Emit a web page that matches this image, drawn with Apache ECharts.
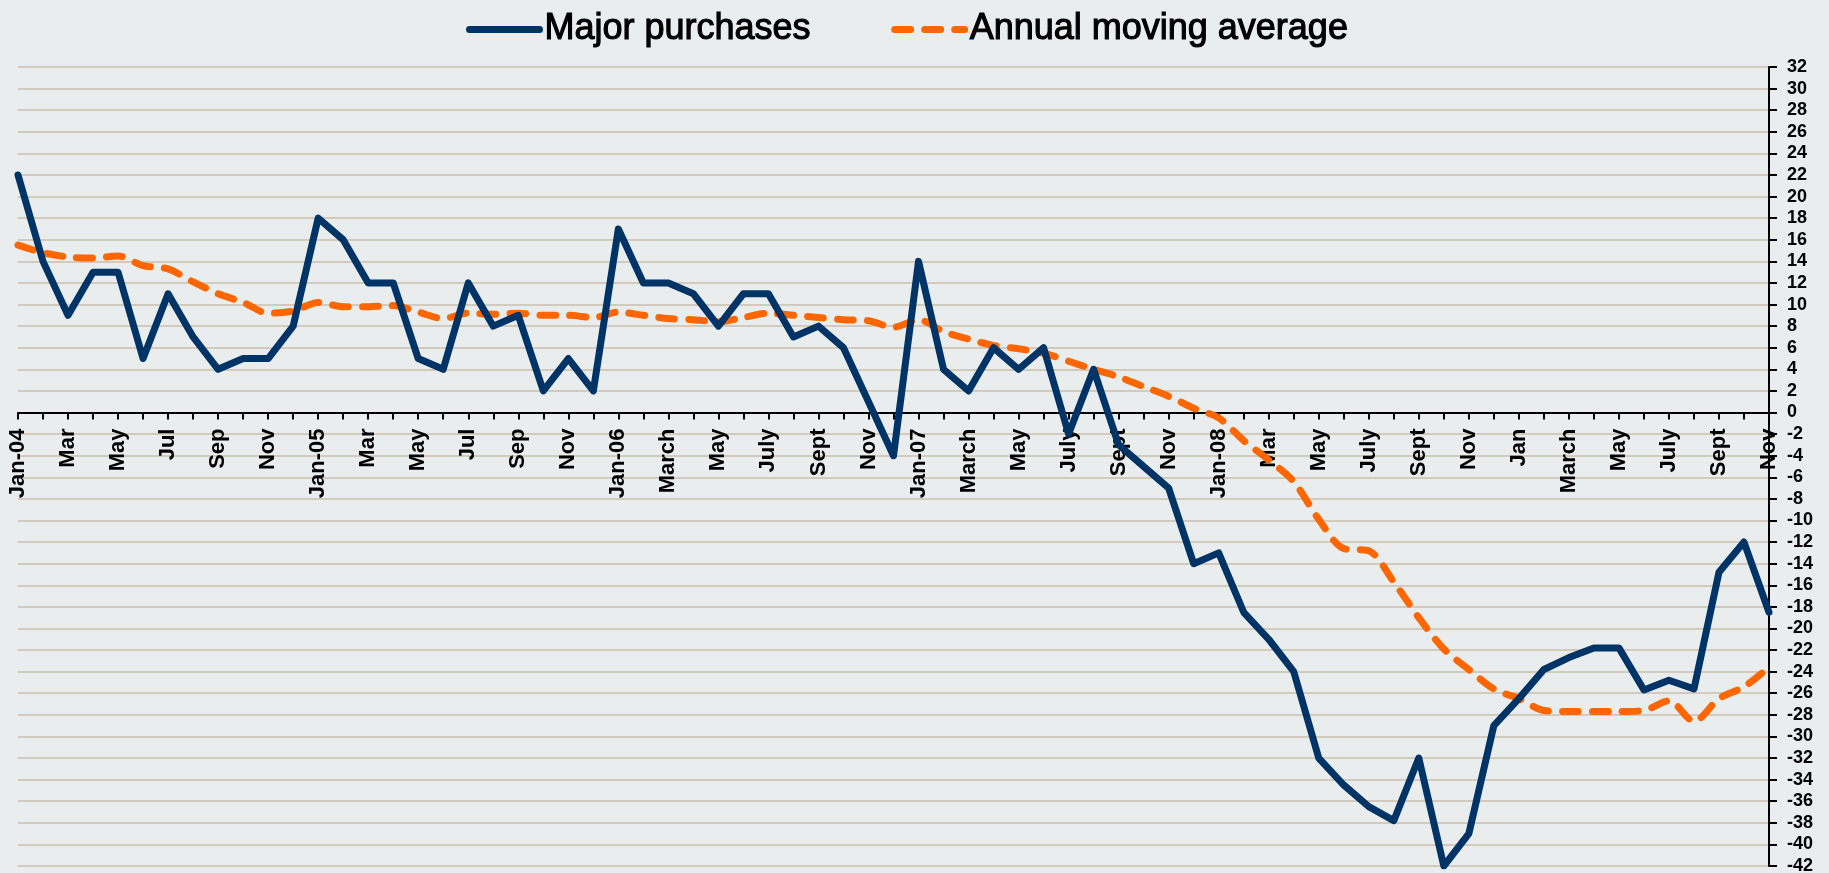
<!DOCTYPE html>
<html>
<head>
<meta charset="utf-8">
<script src="https://cdn.jsdelivr.net/npm/echarts@6/dist/echarts.min.js"></script>
<style>
	html, body { margin: 0; padding: 0; background: #e9eded; }
	#myChart { width: 1829px; height: 873px; }
</style>
</head>
<body>
<div id="myChart"></div>
<script>
	// months Jan-04 .. Nov-09
	const months = []
	for (let y = 2004; y <= 2009; y++) {
		for (let m = 1; m <= 12; m++) {
			if (y === 2009 && m > 11) break
			months.push(y + '-' + (m < 10 ? '0' + m : m))
		}
	}

	const tickLabels = [
		'Jan-04', '', 'Mar', '', 'May', '', 'Jul', '', 'Sep', '', 'Nov', '',
		'Jan-05', '', 'Mar', '', 'May', '', 'Jul', '', 'Sep', '', 'Nov', '',
		'Jan-06', '', 'March', '', 'May', '', 'July', '', 'Sept', '', 'Nov', '',
		'Jan-07', '', 'March', '', 'May', '', 'July', '', 'Sept', '', 'Nov', '',
		'Jan-08', '', 'Mar', '', 'May', '', 'July', '', 'Sept', '', 'Nov', '',
		'Jan', '', 'March', '', 'May', '', 'July', '', 'Sept', '', 'Nov'
	]

	const majorPurchases = [
		22, 14, 9, 13, 13, 5, 11, 7, 4, 5, 5, 8,
		18, 16, 12, 12, 5, 4, 12, 8, 9, 2, 5, 2,
		17, 12, 12, 11, 8, 11, 11, 7, 8, 6, 1, -4,
		14, 4, 2, 6, 4, 6, -2, 4, -3, -5, -7, -14,
		-13, -18.5, -21, -24, -32, -34.5, -36.5, -37.8, -32, -42, -39, -29,
		-26.5, -23.8, -22.7, -21.8, -21.8, -25.7, -24.8, -25.6, -14.8, -12, -18.5
	]

	const movingAverage = [
		15.5, 14.8, 14.4, 14.3, 14.5, 13.6, 13.3, 12.1, 11.0, 10.2, 9.2, 9.4,
		10.2, 9.8, 9.8, 9.9, 9.3, 8.7, 9.2, 9.1, 9.2, 9.0, 9.0, 8.8,
		9.3, 9.0, 8.7, 8.6, 8.4, 8.8, 9.2, 9.0, 8.8, 8.6, 8.5, 7.9,
		8.6, 7.5, 6.8, 6.2, 5.9, 5.5, 4.75, 4.0, 3.3, 2.4, 1.5, 0.4,
		-0.5, -2.6, -4.4, -6.4, -9.9, -12.6, -12.8, -15.7, -19, -21.9, -23.8, -25.6,
		-26.5, -27.6, -27.7, -27.7, -27.7, -27.6, -26.7, -28.6, -26.5, -25.4, -23.6
	]

	const yMin = -42
	const yMax = 32
	const gridTop = 67
	const gridBottom = 7
	const chartH = 873
	// move the category axis (line, ticks and labels) up to the zero line
	const plotH = chartH - gridTop - gridBottom
	const zeroOffset = -plotH * (0 - yMin) / (yMax - yMin)

	const myChart = echarts.init(document.getElementById('myChart'))
	myChart.setOption({
		backgroundColor: '#e9eded',
		animation: false,
		legend: {
			left: 461,
			top: 6,
			itemWidth: 70,
			itemHeight: 14,
			itemGap: 80,
			textStyle: {
				fontFamily: 'Liberation Sans',
				fontSize: 36,
				color: '#000',
				textBorderColor: '#000',
				textBorderWidth: 1.1
			},
			itemStyle: { opacity: 0 },
			lineStyle: { width: 7, cap: 'round' },
			data: ['Major purchases', 'Annual moving average']
		},
		grid: {
			left: 18,
			right: 60,
			top: gridTop,
			bottom: gridBottom,
			containLabel: false,
			outerBoundsMode: 'none'
		},
		xAxis: {
			type: 'category',
			data: months,
			boundaryGap: false,
			offset: zeroOffset,
			axisLine: {
				onZero: false,
				lineStyle: { color: '#000', width: 2 }
			},
			axisTick: {
				interval: 0,
				length: 7,
				lineStyle: { color: '#000', width: 2 }
			},
			axisLabel: {
				interval: 0,
				rotate: 90,
				margin: 16,
				fontFamily: 'Liberation Sans',
				fontWeight: 'bold',
				fontSize: 22,
				color: '#000',
				formatter: function(value, index) {
					return tickLabels[index]
				}
			},
			splitLine: { show: false }
		},
		yAxis: {
			type: 'value',
			position: 'right',
			min: yMin,
			max: yMax,
			interval: 2,
			axisLine: {
				show: true,
				lineStyle: { color: '#000', width: 2 }
			},
			axisTick: {
				show: true,
				length: 8,
				lineStyle: { color: '#000', width: 2 }
			},
			axisLabel: {
				margin: 18,
				fontFamily: 'Liberation Sans',
				fontWeight: 'bold',
				fontSize: 18,
				color: '#000'
			},
			splitLine: {
				lineStyle: { color: '#d3cabe', width: 2 }
			}
		},
		series: [{
				name: 'Major purchases',
				type: 'line',
				data: majorPurchases,
				symbol: 'none',
				lineStyle: { color: '#003366', width: 7, join: 'round', cap: 'round' },
				itemStyle: { color: '#003366' },
				z: 3
			},
			{
				name: 'Annual moving average',
				type: 'line',
				data: movingAverage,
				symbol: 'none',
				smooth: 0.3,
				lineStyle: { color: '#ff6600', width: 7, type: [16, 14], cap: 'round', join: 'round' },
				itemStyle: { color: '#ff6600' },
				z: 2
			}
		]
	})
</script>
</body>
</html>
